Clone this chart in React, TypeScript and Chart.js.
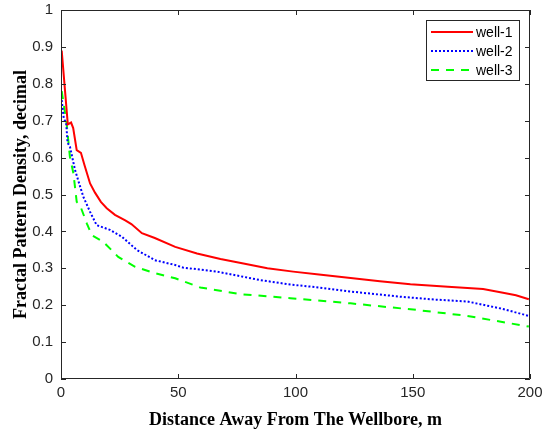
import React, { useEffect, useRef } from "react";
import { Chart, registerables } from "chart.js";
Chart.register(...registerables);

const xTicks = [0, 50, 100, 150, 200];
const yTicks = [0, 0.1, 0.2, 0.3, 0.4, 0.5, 0.6, 0.7, 0.8, 0.9, 1];

const well1X = [0.3, 2.9, 4.3, 5.2, 6.7, 8.5, 10, 12.4, 14.5, 17, 19.5, 23, 27.4, 30, 34.5, 40, 48.7, 58, 68, 77.8, 88, 99, 110, 123.5, 136, 149, 165, 180, 188.5, 194, 199.5];
const well1Y = [0.89, 0.69, 0.695, 0.68, 0.62, 0.613, 0.58, 0.53, 0.505, 0.48, 0.463, 0.445, 0.43, 0.42, 0.395, 0.382, 0.358, 0.34, 0.325, 0.313, 0.3, 0.291, 0.283, 0.274, 0.265, 0.257, 0.25, 0.244, 0.234, 0.227, 0.216];

const well2X = [0.3, 1.2, 2.2, 2.8, 3.8, 6, 9.5, 12.4, 15.2, 20.9, 25.9, 32.3, 40, 48.7, 52, 66.5, 85, 97.8, 110, 123.5, 144.8, 160, 173.3, 187.6, 199.5];
const well2Y = [0.756, 0.705, 0.695, 0.64, 0.63, 0.566, 0.494, 0.453, 0.417, 0.404, 0.386, 0.35, 0.322, 0.309, 0.302, 0.291, 0.268, 0.256, 0.248, 0.237, 0.223, 0.215, 0.21, 0.191, 0.171];

const well3X = [0.3, 2.4, 3.1, 3.8, 5.3, 6.7, 8.1, 11, 13.1, 18, 24.4, 31.6, 40, 48.7, 59.4, 76.5, 97.8, 123.5, 151.9, 173.3, 199.5];
const well3Y = [0.78, 0.693, 0.647, 0.602, 0.557, 0.48, 0.471, 0.422, 0.39, 0.372, 0.331, 0.304, 0.287, 0.273, 0.248, 0.23, 0.219, 0.205, 0.187, 0.171, 0.142];

const seriesLabels = ["well-1", "well-2", "well-3"];
const xTitle = "Distance Away From The Wellbore, m";
const yTitle = "Fractal Pattern Density, decimal";

const pts = (xs: number[], ys: number[]) => xs.map((x, i) => ({ x, y: ys[i] }));

const boxPlugin = {
  id: "boxPlugin",
  afterDraw(chart: any) {
    const { ctx, chartArea: a, scales } = chart;
    ctx.save();
    ctx.strokeStyle = "#262626";
    ctx.lineWidth = 1;
    ctx.beginPath();
    ctx.rect(a.left + 0.5, a.top + 0.5, a.right - a.left - 1, a.bottom - a.top - 1);
    ctx.stroke();
    const tl = 5;
    ctx.beginPath();
    xTicks.forEach((v) => {
      const px = Math.round(scales.x.getPixelForValue(v)) + 0.5;
      ctx.moveTo(px, a.bottom);
      ctx.lineTo(px, a.bottom - tl);
      ctx.moveTo(px, a.top);
      ctx.lineTo(px, a.top + tl);
    });
    yTicks.forEach((v) => {
      const py = Math.round(scales.y.getPixelForValue(v)) + 0.5;
      ctx.moveTo(a.left, py);
      ctx.lineTo(a.left + tl, py);
      ctx.moveTo(a.right, py);
      ctx.lineTo(a.right - tl, py);
    });
    ctx.stroke();

    // legend
    const lx = 426, ly = 20, lw = 93, lh = 60;
    ctx.fillStyle = "#fff";
    ctx.fillRect(lx, ly, lw, lh);
    ctx.strokeStyle = "#262626";
    ctx.strokeRect(lx + 0.5, ly + 0.5, lw, lh);
    const rows = [32, 51, 70];
    chart.data.datasets.forEach((ds: any, i: number) => {
      ctx.beginPath();
      ctx.strokeStyle = ds.borderColor;
      ctx.lineWidth = ds.borderWidth;
      ctx.setLineDash(ds.borderDash || []);
      ctx.moveTo(431, rows[i]);
      ctx.lineTo(473, rows[i]);
      ctx.stroke();
      ctx.setLineDash([]);
      ctx.fillStyle = "#000";
      ctx.font = "14px 'Liberation Sans', Arial, sans-serif";
      ctx.textBaseline = "middle";
      ctx.textAlign = "left";
      ctx.fillText(ds.label, 476, rows[i] + 1);
    });
    ctx.restore();
  },
};

export default function App() {
  const ref = useRef<HTMLCanvasElement | null>(null);
  useEffect(() => {
    document.body.style.margin = "0";
    const tickFont = { family: "'Liberation Sans', Arial, sans-serif", size: 15 };
    const titleFont = { family: "'Liberation Serif', 'Times New Roman', serif", size: 18, weight: "bold" as const };
    const chart = new Chart(ref.current as HTMLCanvasElement, {
      type: "line",
      data: {
        datasets: [
          { label: seriesLabels[0], data: pts(well1X, well1Y), borderColor: "#ff0000", borderWidth: 2, pointRadius: 0, tension: 0 },
          { label: seriesLabels[1], data: pts(well2X, well2Y), borderColor: "#0000ff", borderWidth: 2, borderDash: [2, 2], pointRadius: 0, tension: 0 },
          { label: seriesLabels[2], data: pts(well3X, well3Y), borderColor: "#00ff00", borderWidth: 2, borderDash: [8, 7], pointRadius: 0, tension: 0 },
        ],
      },
      options: {
        animation: false,
        responsive: false,
        maintainAspectRatio: false,
        layout: { padding: { left: 0, right: 17, top: 10, bottom: 0 } },
        plugins: { legend: { display: false }, tooltip: { enabled: false } },
        scales: {
          x: {
            type: "linear",
            min: 0,
            max: 200,
            afterBuildTicks: (s: any) => { s.ticks = xTicks.map((v) => ({ value: v })); },
            afterFit: (s: any) => { s.height = 52; s.paddingLeft = 0; s.paddingRight = 0; },
            grid: { display: false, drawTicks: false },
            border: { display: false },
            ticks: { color: "#262626", font: tickFont, padding: 5, maxRotation: 0 },
            title: { display: true, text: xTitle, color: "#000", font: titleFont, padding: { top: 0, bottom: 0 } },
          },
          y: {
            type: "linear",
            min: 0,
            max: 1,
            afterBuildTicks: (s: any) => { s.ticks = yTicks.map((v) => ({ value: v })); },
            afterFit: (s: any) => { s.width = 61; s.paddingTop = 0; s.paddingBottom = 0; },
            grid: { display: false, drawTicks: false },
            border: { display: false },
            ticks: { color: "#262626", font: tickFont, padding: 8, callback: (v: any) => String(Math.round(v * 10) / 10) },
            title: { display: true, text: yTitle, color: "#000", font: titleFont, padding: { top: 11, bottom: 0 } },
          },
        },
      },
      plugins: [boxPlugin],
    });
    return () => chart.destroy();
  }, []);
  return (
    <div style={{ position: "absolute", left: 0, top: 0, width: 547, height: 431, background: "#fff" }}>
      <canvas ref={ref} width={547} height={431} style={{ width: 547, height: 431 }} />
    </div>
  );
}
